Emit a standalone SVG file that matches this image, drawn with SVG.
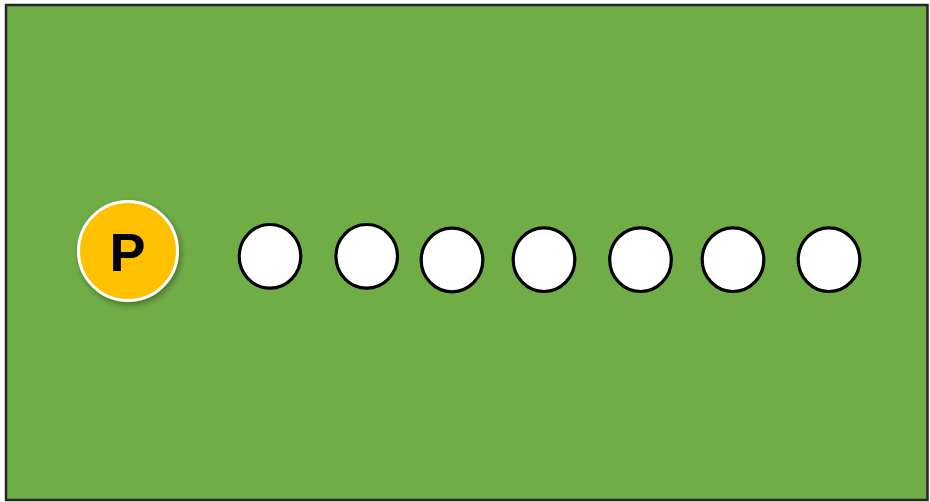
<svg xmlns="http://www.w3.org/2000/svg" width="930" height="502" viewBox="0 0 930 502">
<style>
.seat{fill:#ffffff;stroke:#000000;stroke-width:3.2}
.lbl{font-family:"Liberation Sans",Arial,sans-serif;font-weight:bold;font-size:54px;fill:#000000}
</style>
<defs>
<filter id="sh" x="-30%" y="-30%" width="160%" height="160%">
<feDropShadow dx="2" dy="3" stdDeviation="3" flood-color="#000" flood-opacity="0.35"/>
</filter>
</defs>
<rect id="background" x="6" y="5" width="921.5" height="495" fill="#70AD47" stroke="#262626" stroke-width="2.5"/>
<g id="node-p" filter="url(#sh)">
<circle cx="128" cy="251" r="49.5" fill="#FFC000" stroke="#ffffff" stroke-width="3"/>
<text class="lbl" x="127.5" y="271" text-anchor="middle">P</text>
</g>
<g id="node-1"><ellipse class="seat" cx="270" cy="256.3" rx="30.8" ry="31.8"/></g>
<g id="node-2"><ellipse class="seat" cx="366.7" cy="256.3" rx="30.8" ry="31.8"/></g>
<g id="node-3"><ellipse class="seat" cx="452" cy="260" rx="30.8" ry="31.8"/></g>
<g id="node-4"><ellipse class="seat" cx="544" cy="259.7" rx="30.8" ry="31.8"/></g>
<g id="node-5"><ellipse class="seat" cx="640.5" cy="259.7" rx="30.8" ry="31.8"/></g>
<g id="node-6"><ellipse class="seat" cx="733" cy="259.7" rx="30.8" ry="31.8"/></g>
<g id="node-7"><ellipse class="seat" cx="829" cy="259.7" rx="30.8" ry="31.8"/></g>
<g id="connectors"></g>
</svg>
